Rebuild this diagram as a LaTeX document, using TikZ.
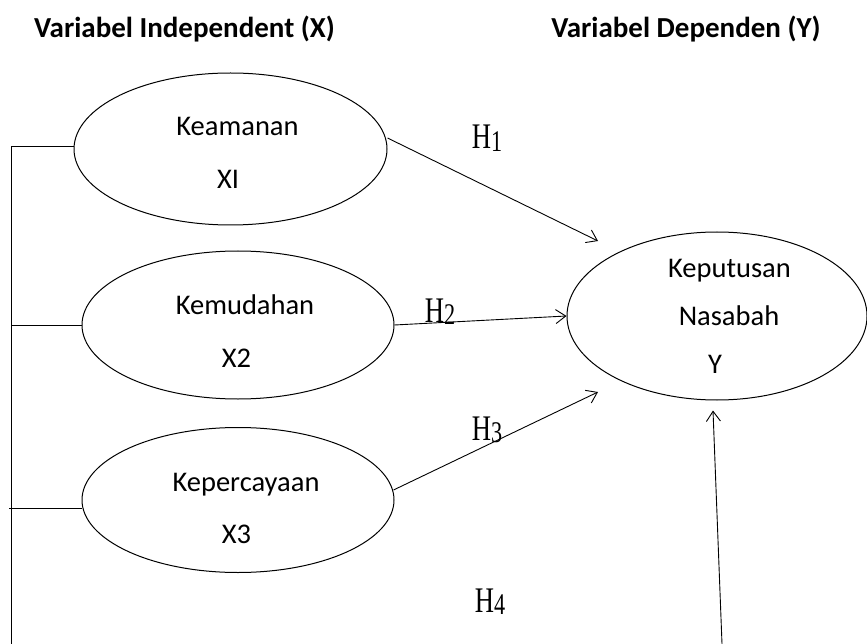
\documentclass[tikz,border=0pt]{standalone}
\usepackage{graphicx}
\usepackage{fontspec}
\setmainfont{Carlito}
\newfontfamily\hfont{Liberation Serif}
\usetikzlibrary{shapes.geometric,arrows.meta,calc}
\newcommand\hyplabel[1]{\scalebox{0.74}[1]{\hfont\fontsize{36}{36}\selectfont H\raisebox{-2.5pt}{\fontsize{30}{30}\selectfont #1}}}
\begin{document}
\begin{tikzpicture}[x=1pt,y=-1pt,line width=1pt,
  oval/.style={draw,ellipse,inner sep=0pt},
  lbl/.style={anchor=base,inner sep=0pt,font=\fontsize{28.5}{32}\selectfont},
  ttl/.style={anchor=base,inner sep=0pt,font=\fontsize{29}{33}\selectfont\bfseries},
  hyp/.style={anchor=base,inner sep=0pt},
  arr/.style={-{Straight Barb[length=10pt,width=14pt]},line width=0.9pt}]
\useasboundingbox (0,0) rectangle (867,644);

% titles
\node[ttl] (tl) at (184.5,38) {Variabel Independent (X)};
\node[ttl] (tr) at (686,38) {Variabel Dependen (Y)};

% ovals
\node[oval,minimum width=313pt,minimum height=152pt] (e1) at (230.5,149) {};
\node[oval,minimum width=312pt,minimum height=148pt] (e2) at (238,325) {};
\node[oval,minimum width=312pt,minimum height=145pt] (e3) at (238,500) {};
\node[oval,minimum width=300pt,minimum height=168pt] (y) at (717,316) {};

% oval texts
\node[lbl] (t1a) at (237.5,136) {Keamanan};
\node[lbl] (t1b) at (228,189) {XI};
\node[lbl] (t2a) at (245,314) {Kemudahan};
\node[lbl] (t2b) at (236.5,367) {X2};
\node[lbl] (t3a) at (246,491) {Kepercayaan};
\node[lbl] (t3b) at (236.5,543) {X3};
\node[lbl] (ya) at (729.5,278) {Keputusan};
\node[lbl] (yb) at (729,325) {Nasabah};
\node[lbl] (yc) at (715,373) {Y};

% hypothesis labels
\node[hyp] (h1) at (487,149) {\hyplabel{1}};
\node[hyp] (h2) at (440,322) {\hyplabel{2}};
\node[hyp] (h3) at (487,440) {\hyplabel{3}};
\node[hyp] (h4) at (490,612) {\hyplabel{4}};

% left bracket lines
\coordinate (lt) at (11,147);
\coordinate (lb) at (11,644);
\coordinate (b4) at (722,644);
\draw ($(e1.west)+(0,-2)$) -- (lt) -- (lb);
\draw (e2.west) -- (e2.west -| lt);
\draw ($(e3.west)+(0,8)$) -- ++(-73,0);

% arrows
\draw[arr] ($(e1.east)+(0,-11)$) -- ($(y.center)+(-119,-75)$);
\draw[arr] (e2.east) -- (y.west);
\draw[arr] ($(e3.east)+(-1,-10)$) -- ($(y.center)+(-119,76)$);
\draw[arr] (b4) -- ($(y.south)+(-4,10)$);
\end{tikzpicture}
\end{document}
